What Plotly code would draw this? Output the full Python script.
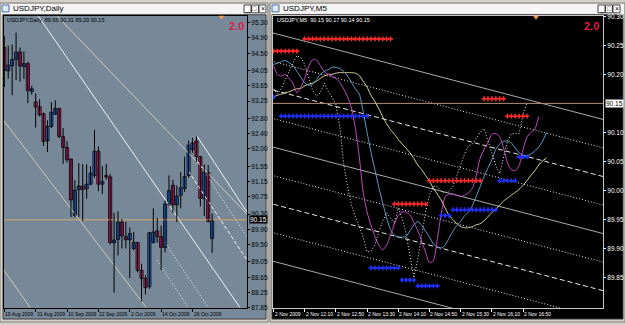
import plotly.graph_objects as go

W, H = 625, 325

# ---------------- Daily USDJPY (left window) ----------------
daily_tick_idx = [0, 8, 16, 24, 32, 40, 48]
daily_tick_text = ["19 Aug 2009", "31 Aug 2009", "10 Sep 2009", "22 Sep 2009",
                   "2 Oct 2009", "14 Oct 2009", "26 Oct 2009"]
daily_open = [94.65, 94.04, 94.17, 94.34, 94.53, 94.15, 94.23, 93.50, 93.23, 93.10,
              92.92, 92.21, 92.59, 92.91, 93.06, 92.32, 92.04, 91.74, 90.26, 90.94,
              91.03, 90.96, 91.08, 91.31, 91.94, 91.08, 91.31, 91.27, 89.55, 89.64,
              90.09, 89.71, 89.63, 89.40, 89.56, 88.83, 88.62, 88.40, 89.56, 89.86,
              89.71, 89.43, 90.56, 91.05, 90.54, 90.79, 90.97, 91.31, 91.99, 92.21,
              91.80, 90.71, 91.39, 89.66]
daily_high = [94.95, 94.70, 94.73, 95.04, 94.65, 94.55, 94.28, 93.65, 93.45, 93.30,
              92.95, 92.75, 93.22, 93.27, 93.06, 92.55, 92.20, 91.74, 91.18, 91.63,
              91.60, 91.60, 91.55, 92.50, 92.07, 91.55, 91.61, 91.35, 90.33, 90.37,
              90.17, 90.10, 89.95, 89.83, 89.56, 89.00, 88.70, 89.83, 90.45, 90.20,
              90.00, 90.65, 91.31, 91.20, 91.05, 91.40, 91.80, 92.22, 92.29, 92.33,
              91.82, 91.60, 91.58, 90.31]
daily_low = [93.62, 93.83, 93.40, 93.80, 93.76, 93.83, 93.20, 93.42, 92.56, 92.85,
             92.08, 91.92, 92.55, 92.89, 92.28, 91.61, 91.65, 90.22, 90.22, 90.22,
             90.12, 90.70, 91.05, 91.25, 90.90, 90.82, 91.20, 89.50, 88.25, 89.22,
             89.40, 89.40, 88.63, 89.35, 88.78, 88.02, 88.20, 88.35, 89.53, 89.55,
             88.84, 89.30, 90.50, 90.33, 90.09, 90.45, 90.88, 91.25, 91.90, 91.67,
             90.50, 90.25, 90.08, 89.29]
daily_close = [94.05, 94.19, 94.34, 94.53, 94.17, 94.23, 93.53, 93.57, 93.10, 92.89,
               92.20, 92.59, 92.96, 93.06, 92.33, 92.04, 91.72, 90.67, 90.92, 91.03,
               90.94, 91.08, 91.37, 91.94, 91.08, 91.15, 91.27, 89.56, 89.62, 90.09,
               89.73, 89.63, 89.79, 89.56, 88.83, 88.62, 88.38, 89.81, 89.83, 89.71,
               89.43, 90.56, 90.91, 90.54, 90.77, 90.99, 91.28, 92.10, 92.16, 91.80,
               90.71, 91.39, 90.11, 90.15]
daily_price_ticks = [95.30, 94.90, 94.50, 94.05, 93.65, 93.25, 92.80, 92.40, 92.00, 91.55,
                     91.15, 90.75, 90.30, 89.90, 89.50, 89.05, 88.65, 88.25, 87.85]
daily_last = 90.15

# trend / channel objects on the daily chart: (bar, price) -> (bar, price)
d_line_x0 = [13.4, 8.6, -0.5, -0.5, 49.2, 48.6, 46.9, 41.0, 39.0]
d_line_p0 = [95.48, 95.48, 92.79, 88.89, 92.33, 91.79, 91.43, 89.56, 89.09]
d_line_x1 = [61.9, 60.1, 36.2, 6.6, 61.9, 61.9, 61.9, 52.0, 46.9]
d_line_p1 = [90.30, 87.86, 87.86, 87.86, 90.35, 89.70, 89.10, 87.86, 87.86]
d_line_kind = ["wheat", "white", "wheat", "wheat", "white", "dot", "dash", "dot", "dot"]

# ---------------- M5 USDJPY (right window) ----------------
m5_tick_idx = [0, 8, 16, 24, 32, 40, 48, 56, 64]
m5_tick_text = ["2 Nov 2009", "2 Nov 12:10", "2 Nov 12:50", "2 Nov 13:30", "2 Nov 14:10",
                "2 Nov 14:50", "2 Nov 15:30", "2 Nov 16:10", "2 Nov 16:50"]
m5_price_ticks = [90.30, 90.25, 90.20, 90.10, 90.05, 90.00, 89.95, 89.90, 89.85]
m5_last = 90.15

m5_close = [90.175, 90.166, 90.176, 90.191, 90.207, 90.220, 90.232, 90.229, 90.217, 90.195,
            90.173, 90.163, 90.168, 90.185, 90.171, 90.161, 90.148, 90.110, 90.046, 90.007,
            89.975, 89.955, 89.938, 89.920, 89.894, 89.896, 89.906, 89.930, 89.947, 89.962,
            89.953, 89.943, 89.970, 89.952, 89.926, 89.891, 89.850, 89.882, 89.925, 89.963,
            89.992, 90.007, 90.007, 89.999, 89.996, 89.999, 90.007, 90.024, 90.044, 90.063,
            90.077, 90.080, 90.090, 90.100, 90.107, 90.085, 90.065, 90.043, 90.029, 90.056,
            90.085, 90.098, 90.098, 90.098, 90.132, 90.151]
ma_magenta = [90.215, 90.200, 90.197, 90.200, 90.193, 90.185, 90.168, 90.178, 90.193, 90.213,
              90.225, 90.225, 90.215, 90.205, 90.200, 90.197, 90.193, 90.186, 90.175, 90.161,
              90.142, 90.107, 90.058, 89.997, 89.963, 89.940, 89.921, 89.906, 89.898, 89.906,
              89.923, 89.943, 89.957, 89.963, 89.963, 89.958, 89.945, 89.931, 89.913, 89.894,
              89.876, 89.879, 89.916, 89.960, 89.989, 89.994, 89.994, 89.992, 89.990, 89.992,
              89.996, 90.004, 90.026, 90.056, 90.071, 90.083, 90.097, 90.098, 90.093, 90.073,
              90.048, 90.036, 90.034, 90.043, 90.071, 90.092, 90.100, 90.105, 90.127]
ma_blue = [90.217, 90.219, 90.222, 90.224, 90.220, 90.215, 90.205, 90.195, 90.185, 90.181,
           90.183, 90.191, 90.200, 90.205, 90.208, 90.212, 90.212, 90.210, 90.205, 90.197,
           90.186, 90.175, 90.166, 90.136, 90.100, 90.066, 90.036, 90.006, 89.979, 89.953,
           89.933, 89.923, 89.920, 89.920, 89.921, 89.931, 89.941, 89.947, 89.940, 89.930,
           89.920, 89.908, 89.903, 89.901, 89.906, 89.918, 89.930, 89.940, 89.947, 89.957,
           89.963, 89.974, 89.990, 90.007, 90.024, 90.039, 90.053, 90.071, 90.080, 90.085,
           90.085, 90.082, 90.073, 90.065, 90.061, 90.060, 90.063, 90.068, 90.075, 90.085,
           90.100]
ma_khaki = [90.161, 90.164, 90.166, 90.168, 90.170, 90.173, 90.175, 90.176, 90.180, 90.183,
            90.185, 90.188, 90.193, 90.197, 90.200, 90.200, 90.202, 90.203, 90.203, 90.203,
            90.203, 90.202, 90.198, 90.188, 90.178, 90.164, 90.153, 90.141, 90.127, 90.115,
            90.105, 90.097, 90.088, 90.080, 90.073, 90.065, 90.055, 90.044, 90.036, 90.026,
            90.016, 90.004, 89.994, 89.984, 89.970, 89.958, 89.950, 89.943, 89.938, 89.936,
            89.936, 89.938, 89.941, 89.943, 89.948, 89.955, 89.962, 89.968, 89.975, 89.982,
            89.987, 89.992, 89.997, 90.002, 90.009, 90.017, 90.026, 90.034, 90.044, 90.051,
            90.056]

# resistance (red) and support (blue) levels: bar runs
res_start = [0, 8, 31, 40, 54, 60]
res_end = [6, 30, 39, 53, 59, 65]
res_level = [90.240, 90.261, 89.977, 90.017, 90.158, 90.128]
sup_start = [0, 2, 25, 33, 37, 43, 46, 58, 63]
sup_end = [0, 24, 32, 36, 42, 45, 57, 62, 65]
sup_level = [90.161, 90.128, 89.867, 89.846, 89.836, 89.957, 89.967, 90.017, 90.058]

# parallel channel on M5
ch_first_price = 90.271
ch_slope = -0.001758
ch_step = 0.0491
ch_kind = ["solid", "dot", "dash", "dot", "solid", "dot", "dash", "dot", "solid"]

# ---------------- helpers (page geometry) ----------------
def PX(x):
    return x / W

def PY(y):
    return 1 - y / H

FONT = "Liberation Sans"
fig = go.Figure()

# ---- daily: channel lines
line_styles = {
    "wheat": dict(color="#cfc8b8", width=1),
    "white": dict(color="#f2f2f2", width=1),
    "dot": dict(color="#f2f2f2", width=1, dash="1px,2px"),
    "dash": dict(color="#f2f2f2", width=1, dash="4px,2px"),
}
for x0, p0, x1, p1, k in zip(d_line_x0, d_line_p0, d_line_x1, d_line_p1, d_line_kind):
    fig.add_trace(go.Scatter(x=[x0, x1], y=[p0, p1], mode="lines", line=line_styles[k],
                             xaxis="x", yaxis="y", hoverinfo="skip"))

# ---- daily: last price line
fig.add_trace(go.Scatter(x=[-1, 70], y=[daily_last, daily_last], mode="lines",
                         line=dict(color="#d9a36a", width=1), xaxis="x", yaxis="y"))

# ---- daily candles
n = len(daily_open)
wx, wy = [], []
for i in range(n):
    wx += [i, i, None]
    wy += [daily_low[i], daily_high[i], None]
fig.add_trace(go.Scatter(x=wx, y=wy, mode="lines", line=dict(color="#000000", width=1),
                         xaxis="x", yaxis="y", hoverinfo="skip"))
base = [min(o, c) for o, c in zip(daily_open, daily_close)]
hgt = [max(abs(c - o), 0.03) for o, c in zip(daily_open, daily_close)]
cols = ["#2a72d8" if c >= o else "#c8296f" for o, c in zip(daily_open, daily_close)]
fig.add_trace(go.Bar(x=list(range(n)), y=hgt, base=base, width=0.8,
                     marker=dict(color=cols, line=dict(color="#000000", width=0.8)),
                     xaxis="x", yaxis="y", hoverinfo="skip"))

# ---- M5: channel
ch_styles = {
    "solid": dict(color="#a9a9a9", width=1),
    "dot": dict(color="#e8e8e8", width=1, dash="1px,2px"),
    "dash": dict(color="#e8e8e8", width=1, dash="5px,3px"),
}
for k, kind in enumerate(ch_kind):
    p0 = ch_first_price - k * ch_step
    xs = [-2, 90]
    ys = [p0 + ch_slope * x for x in xs]
    fig.add_trace(go.Scatter(x=xs, y=ys, mode="lines", line=ch_styles[kind],
                             xaxis="x2", yaxis="y2", hoverinfo="skip"))

# ---- M5: last price line
fig.add_trace(go.Scatter(x=[-2, 90], y=[m5_last, m5_last], mode="lines",
                         line=dict(color="#b38b77", width=1), xaxis="x2", yaxis="y2"))

# ---- M5: moving averages
for ser, col in [(ma_khaki, "#dcdc9c"), (ma_blue, "#5f9fc8"), (ma_magenta, "#c447c4")]:
    fig.add_trace(go.Scatter(x=list(range(len(ser))), y=ser, mode="lines",
                             line=dict(color=col, width=1, shape="spline", smoothing=0.6),
                             xaxis="x2", yaxis="y2", hoverinfo="skip"))

# ---- M5: price line (dotted)
fig.add_trace(go.Scatter(x=list(range(len(m5_close))), y=m5_close, mode="lines",
                         line=dict(color="#f0f0f0", width=1, dash="1px,2px"),
                         xaxis="x2", yaxis="y2", hoverinfo="skip"))

# ---- M5: level markers
def runs(starts, ends, levels):
    xs, ys = [], []
    for s, e, v in zip(starts, ends, levels):
        for j in range(s, e + 1):
            xs.append(j)
            ys.append(v)
    return xs, ys

rx, ry = runs(res_start, res_end, res_level)
sx, sy = runs(sup_start, sup_end, sup_level)
fig.add_trace(go.Scatter(x=rx, y=ry, mode="markers",
                         marker=dict(symbol="cross", size=4, color="#ff2a2a", line=dict(width=0)),
                         xaxis="x2", yaxis="y2", hoverinfo="skip"))
fig.add_trace(go.Scatter(x=sx, y=sy, mode="markers",
                         marker=dict(symbol="cross", size=4, color="#2030ff", line=dict(width=0)),
                         xaxis="x2", yaxis="y2", hoverinfo="skip"))

# ---------------- window chrome ----------------
shapes = []
def rect(x0, y0, x1, y1, fill, line=None, lw=0, layer="below"):
    shapes.append(dict(type="rect", xref="paper", yref="paper",
                       x0=PX(x0), x1=PX(x1), y0=PY(y1), y1=PY(y0),
                       fillcolor=fill, line=dict(color=line or fill, width=lw), layer=layer))

rect(0, 0, 268, 325, "#d4d0c8", "#808080", 1)
rect(270, 0, 625, 325, "#d4d0c8", "#808080", 1)
rect(1, 1, 267, 11, "#f4f4f4")
rect(271, 1, 624, 11, "#f4f4f4")
rect(3, 12, 266, 322, "#778899", "#404040", 1)
rect(272, 12, 623, 322, "#000000", "#404040", 1)
rect(2, 2, 9, 9, "#dfe8f5", "#4a6da8", 1)
rect(272, 2, 279, 9, "#dfe8f5", "#4a6da8", 1)
for bx in [244, 251.5, 259]:
    rect(bx, 2, bx + 7, 10, "#ffffff", "#404040", 1)
for bx in [598, 605.5, 613]:
    rect(bx, 2, bx + 7, 10, "#ffffff", "#404040", 1)

for tx in [221.5, 536]:
    shapes.append(dict(type="path", xref="paper", yref="paper",
                       path="M {},{} L {},{} L {},{} Z".format(PX(tx - 3), PY(13), PX(tx + 3), PY(13), PX(tx), PY(17)),
                       fillcolor="#f0a050", line=dict(width=0), layer="above"))

annots = []
def text(x, y, s, size=7, color="#000000", xanchor="left", bold=False, bg=None, family=FONT):
    annots.append(dict(xref="paper", yref="paper", x=PX(x), y=PY(y), text=("<b>%s</b>" % s) if bold else s,
                       showarrow=False, xanchor=xanchor, yanchor="middle",
                       font=dict(family=family, size=size, color=color),
                       bgcolor=bg, borderpad=0))

text(12, 6, "USDJPY,Daily", size=8)
text(282, 6, "USDJPY,M5", size=8)
for bx, g in zip([244, 251.5, 259], ["_", "□", "×"]):
    text(bx + 3.5, 6, g, size=7, xanchor="center")
for bx, g in zip([598, 605.5, 613], ["_", "□", "×"]):
    text(bx + 3.5, 6, g, size=7, xanchor="center")

text(6, 17, "USDJPY,Daily&nbsp;&nbsp;89.66 90.31 89.29 90.15", size=5.5)
text(276, 17, "USDJPY,M5&nbsp;&nbsp;90.15 90.17 90.14 90.15", size=5.5, color="#ffffff")
text(245, 23.5, "2.0", size=11, color="#dc1e46", xanchor="right", bold=True)
text(600, 23.5, "2.0", size=11, color="#dc1e46", xanchor="right", bold=True)
text(249, 221, "%.2f" % daily_last, size=6.5, color="#ffffff", bg="#000000")
text(605, 102, "%.2f" % m5_last, size=6.5, color="#000000", bg="#ffffff")

# time labels: left-aligned at their bar, placed through the x axes
for idx, s in zip(daily_tick_idx, daily_tick_text):
    annots.append(dict(xref="x", yref="paper", x=idx, y=PY(317), text=s, showarrow=False,
                       xanchor="left", yanchor="middle", xshift=-1,
                       font=dict(family=FONT, size=5, color="#000000")))
for idx, s in zip(m5_tick_idx, m5_tick_text):
    annots.append(dict(xref="x2", yref="paper", x=idx, y=PY(317), text=s, showarrow=False,
                       xanchor="left", yanchor="middle", xshift=-1,
                       font=dict(family=FONT, size=5, color="#ffffff")))

Y0, Y1 = PY(311), PY(13)
common_x = dict(showticklabels=False, ticks="outside", ticklen=3,
                showline=True, linewidth=1, mirror=True, showgrid=False, zeroline=False,
                fixedrange=True)
common_y = dict(side="right", ticks="outside", ticklen=2, showline=True, linewidth=1,
                mirror=True, showgrid=False, zeroline=False, fixedrange=True)
fig.update_layout(
    width=W, height=H, margin=dict(l=0, r=0, t=0, b=0), autosize=False,
    paper_bgcolor="#d4d0c8", plot_bgcolor="rgba(0,0,0,0)", showlegend=False,
    barmode="overlay", shapes=shapes, annotations=annots,
    xaxis=dict(domain=[PX(4), PX(247)], range=[-0.08, 61.9], anchor="y",
               tickvals=daily_tick_idx, tickcolor="#000000", linecolor="#000000", **common_x),
    yaxis=dict(domain=[Y0, Y1], range=[87.84, 95.48], anchor="x",
               tickvals=daily_price_ticks, ticktext=["%.2f" % v for v in daily_price_ticks],
               tickcolor="#000000", tickfont=dict(family=FONT, size=6.5, color="#000000"),
               linecolor="#000000", **common_y),
    xaxis2=dict(domain=[PX(273), PX(603)], range=[-0.13, 84.5], anchor="y2",
                tickvals=m5_tick_idx, tickcolor="#ffffff", linecolor="#c8c8c8", **common_x),
    yaxis2=dict(domain=[Y0, Y1], range=[89.7975, 90.3008], anchor="x2",
                tickvals=m5_price_ticks, ticktext=["%.2f" % v for v in m5_price_ticks],
                tickcolor="#ffffff", tickfont=dict(family=FONT, size=6.5, color="#ffffff"),
                linecolor="#c8c8c8", **common_y),
)

fig.write_html("out.html")
